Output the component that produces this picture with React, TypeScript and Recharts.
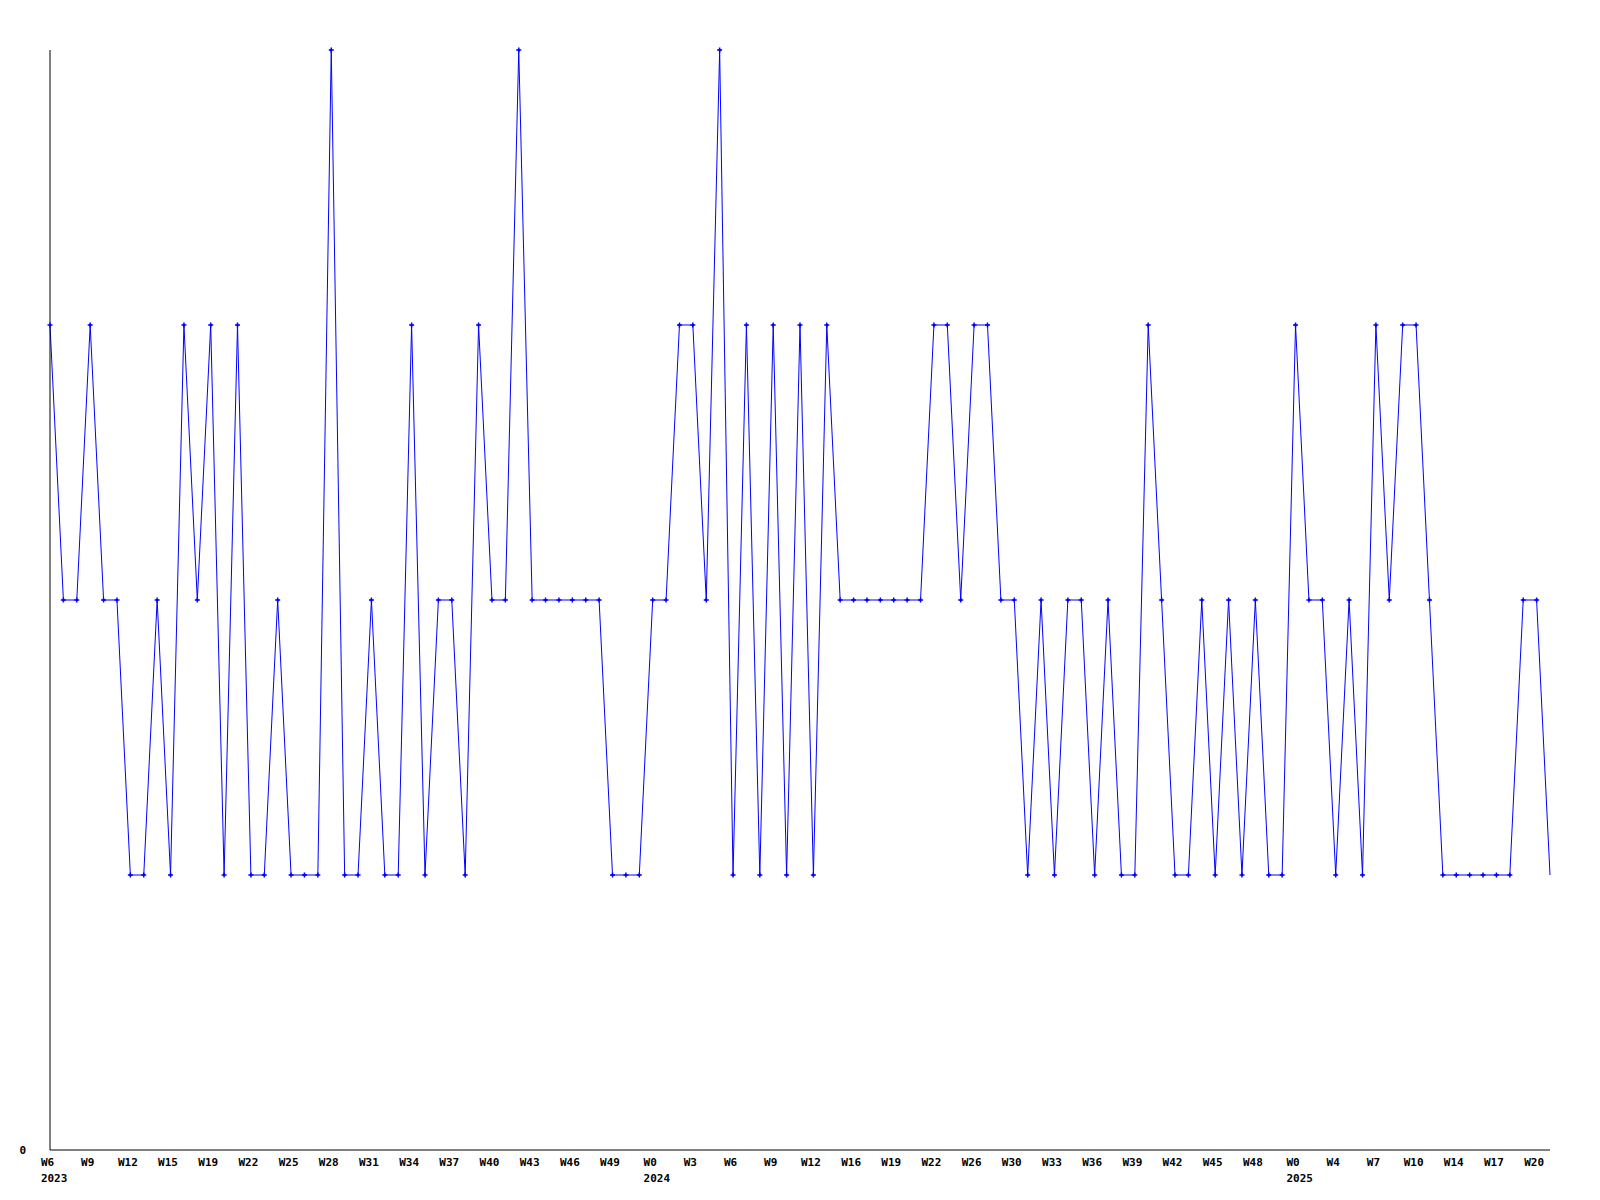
import React from "react";
import { LineChart, Line, XAxis, YAxis } from "recharts";

const values: number[] = [
  3, 2, 2, 3, 2, 2, 1, 1, 2, 1, 3, 2, 3, 1, 3, 1, 1, 2, 1, 1,
  1, 4, 1, 1, 2, 1, 1, 3, 1, 2, 2, 1, 3, 2, 2, 4, 2, 2, 2, 2,
  2, 2, 1, 1, 1, 2, 2, 3, 3, 2, 4, 1, 3, 1, 3, 1, 3, 1, 3, 2,
  2, 2, 2, 2, 2, 2, 3, 3, 2, 3, 3, 2, 2, 1, 2, 1, 2, 2, 1, 2,
  1, 1, 3, 2, 1, 1, 2, 1, 2, 1, 2, 1, 1, 3, 2, 2, 1, 2, 1, 3,
  2, 3, 3, 2, 1, 1, 1, 1, 1, 1, 2, 2, 1,
];

const weekLabels: string[] = [
  "W6", "W9", "W12", "W15", "W19", "W22", "W25", "W28", "W31", "W34",
  "W37", "W40", "W43", "W46", "W49", "W0", "W3", "W6", "W9", "W12",
  "W16", "W19", "W22", "W26", "W30", "W33", "W36", "W39", "W42", "W45",
  "W48", "W0", "W4", "W7", "W10", "W14", "W17", "W20",
];

const yearLabels: Record<number, string> = { 0: "2023", 15: "2024", 31: "2025" };

const tickStep = 3;
const tickPositions: number[] = weekLabels.map((_, k) => k * tickStep);
const yTicks: number[] = [0];

const data = values.map((v, i) => ({ i, v }));

const FONT = "'DejaVu Sans Mono', monospace";
const FS = 11;
const CHAR_W = 6.62;

const XTick = (props: any) => {
  const { x, payload } = props;
  const k = Math.round(payload.value / tickStep);
  const label = weekLabels[k] ?? "";
  const year = yearLabels[k];
  const left = x - 2.5 - (label.length * CHAR_W) / 2;
  return (
    <g>
      <text x={left} y={1158} textAnchor="start" fontFamily={FONT} fontWeight="bold" fontSize={FS} fill="#000">
        {label}
      </text>
      {year ? (
        <text x={left} y={1174} textAnchor="start" fontFamily={FONT} fontWeight="bold" fontSize={FS} fill="#000">
          {year}
        </text>
      ) : null}
    </g>
  );
};

const YTick = (props: any) => {
  const { y, payload } = props;
  return (
    <text x={14.7} y={y + 4} textAnchor="middle" fontFamily={FONT} fontWeight="bold" fontSize={FS} fill="#000">
      {payload.value}
    </text>
  );
};

const PlusDot = (props: any) => {
  const { cx, cy, index } = props;
  if (index === values.length - 1 || cx == null || cy == null) return <g key={`d${index}`} />;
  return (
    <g key={`d${index}`}>
      <path d={`M${cx - 2.5},${cy}h5M${cx},${cy - 2.5}v5`} stroke="#0000ff" strokeWidth={1.5} fill="none" />
      <rect x={cx - 1} y={cy - 1} width={2} height={2} fill="#0000ff" />
    </g>
  );
};

export default function App() {
  return (
    <div style={{ width: 1592, height: 1192, background: "#fff" }}>
      <LineChart
        width={1592}
        height={1192}
        data={data}
        margin={{ top: 42, right: 50, left: 2, bottom: 10 }}
      >
        <XAxis
          dataKey="i"
          type="number"
          domain={[0, values.length - 1]}
          ticks={tickPositions}
          tick={<XTick />}
          tickLine={false}
          axisLine={{ stroke: "#000", strokeWidth: 1 }}
          height={40}
          interval={0}
          allowDecimals={false}
        />
        <YAxis
          type="number"
          domain={[0, 4]}
          ticks={yTicks}
          tick={<YTick />}
          tickLine={false}
          axisLine={{ stroke: "#000", strokeWidth: 1 }}
          width={40}
        />
        <Line
          type="linear"
          dataKey="v"
          stroke="#0000ff"
          strokeWidth={1}
          dot={PlusDot}
          activeDot={false}
          isAnimationActive={false}
        />
      </LineChart>
    </div>
  );
}
